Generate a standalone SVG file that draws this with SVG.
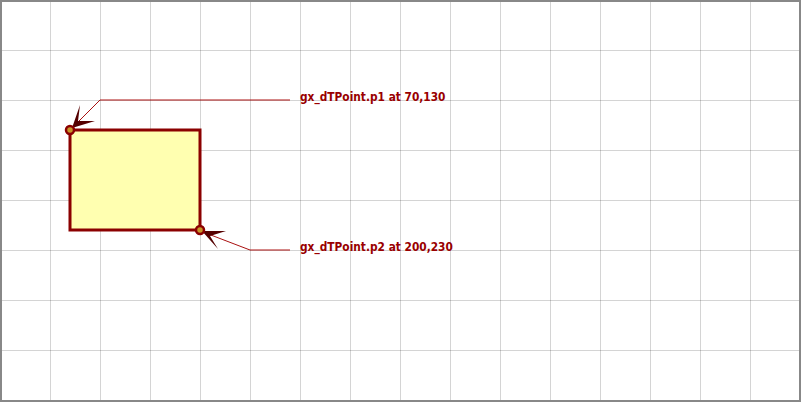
<svg xmlns="http://www.w3.org/2000/svg" width="801" height="402" viewBox="0 0 801 402">
<style>
.grid line{stroke:#000;stroke-opacity:0.17;stroke-width:1}
.lead{fill:none;stroke:#aa1111;stroke-width:1}
.lbl{font-family:"DejaVu Sans Condensed","DejaVu Sans",sans-serif;font-weight:bold;font-size:11.8px;fill:#990000}
.pt{fill:#c89628;stroke:#8b0000;stroke-width:2.5}
.arr{fill:#550000}
</style>
<rect x="0" y="0" width="801" height="402" fill="#fff"/>
<g class="grid">
<line x1="50.5" y1="0" x2="50.5" y2="402"/><line x1="100.5" y1="0" x2="100.5" y2="402"/><line x1="150.5" y1="0" x2="150.5" y2="402"/><line x1="200.5" y1="0" x2="200.5" y2="402"/><line x1="250.5" y1="0" x2="250.5" y2="402"/><line x1="300.5" y1="0" x2="300.5" y2="402"/><line x1="350.5" y1="0" x2="350.5" y2="402"/><line x1="400.5" y1="0" x2="400.5" y2="402"/><line x1="450.5" y1="0" x2="450.5" y2="402"/><line x1="500.5" y1="0" x2="500.5" y2="402"/><line x1="550.5" y1="0" x2="550.5" y2="402"/><line x1="600.5" y1="0" x2="600.5" y2="402"/><line x1="650.5" y1="0" x2="650.5" y2="402"/><line x1="700.5" y1="0" x2="700.5" y2="402"/><line x1="750.5" y1="0" x2="750.5" y2="402"/>
<line x1="0" y1="50.5" x2="801" y2="50.5"/><line x1="0" y1="100.5" x2="801" y2="100.5"/><line x1="0" y1="150.5" x2="801" y2="150.5"/><line x1="0" y1="200.5" x2="801" y2="200.5"/><line x1="0" y1="250.5" x2="801" y2="250.5"/><line x1="0" y1="300.5" x2="801" y2="300.5"/><line x1="0" y1="350.5" x2="801" y2="350.5"/>
</g>
<g id="rect1">
<rect x="70" y="130" width="130" height="100" fill="#ffffb0" stroke="#8b0000" stroke-width="3"/>
</g>
<g id="connectors">
<polyline class="lead" points="73,127 100,100 290,100"/>
<polyline class="lead" points="203,232 250,250 290,250"/>
<path class="arr" d="M72,128 L80,105 L78,121 L95,121 Z"/>
<path class="arr" d="M202,231 L226,231 L210,236 L218,249 Z"/>
</g>
<g id="p1">
<circle class="pt" cx="70" cy="130" r="4"/>
<text class="lbl" x="300" y="100.5">gx_dTPoint.p1 at 70,130</text>
</g>
<g id="p2">
<circle class="pt" cx="200" cy="230" r="4"/>
<text class="lbl" x="300" y="250.5">gx_dTPoint.p2 at 200,230</text>
</g>
<rect x="1" y="1" width="799" height="400" fill="none" stroke="#888" stroke-width="2"/>
</svg>
